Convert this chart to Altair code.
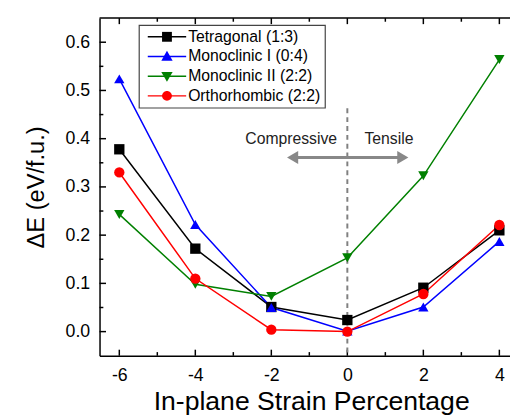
import altair as alt
import pandas as pd

# ---------------- data ----------------
strain = [-6, -4, -2, 0, 2, 4]
series_names = ["Tetragonal (1:3)", "Monoclinic I (0:4)", "Monoclinic II (2:2)", "Orthorhombic (2:2)"]
tetragonal = [0.378, 0.172, 0.051, 0.024, 0.091, 0.210]
monoclinic_1 = [0.524, 0.222, 0.050, 0.001, 0.051, 0.187]
monoclinic_2 = [0.243, 0.098, 0.073, 0.153, 0.323, 0.564]
orthorhombic = [0.330, 0.110, 0.004, 0.000, 0.078, 0.221]
series_values = [tetragonal, monoclinic_1, monoclinic_2, orthorhombic]

colors = ["#000000", "#0000ff", "#008000", "#ff0000"]
shapes = ["square", "triangle-up", "triangle-down", "circle"]

x_major = [-6, -4, -2, 0, 2, 4]
x_minor = [-5, -3, -1, 1, 3]
y_major = [0.0, 0.1, 0.2, 0.3, 0.4, 0.5, 0.6]
y_minor = [0.05, 0.15, 0.25, 0.35, 0.45, 0.55]
x_domain = [-6.52, 4.28]
y_domain = [-0.05, 0.65]

# inward tick lengths in data units (x ticks: along y; y ticks: along x)
x_tick_len = {"major": 0.0125, "minor": 0.0075}
y_tick_len = {"major": 0.17, "minor": 0.10}

# annotations
divider_x = [0]
divider_top = [0.463]
divider_bottom = [-0.05]
arrow_y = [0.361]
arrow_left = [-1.44]
arrow_right = [1.46]
head_x = [-1.44, 1.46]
head_shapes = ["triangle-left", "triangle-right"]
ann_text = ["Compressive", "Tensile"]
ann_x = [-0.27, 0.45]
ann_y = [0.40, 0.40]
ann_align = ["right", "left"]

FONT = "Liberation Sans"

rows = []
for name, vals in zip(series_names, series_values):
    for xv, yv in zip(strain, vals):
        rows.append({"strain": xv, "dE": yv, "series": name, "lseries": name, "mseries": name})
df = pd.DataFrame(rows)

# tick tables (bottom, top, left)
xt_rows = []
for kind, vals in (("major", x_major), ("minor", x_minor)):
    for v in vals:
        xt_rows.append({"x": v, "y": y_domain[0], "y2": y_domain[0] + x_tick_len[kind]})
        xt_rows.append({"x": v, "y": y_domain[1], "y2": y_domain[1] - x_tick_len[kind]})
xt_df = pd.DataFrame(xt_rows)
yt_rows = []
for kind, vals in (("major", y_major), ("minor", y_minor)):
    for v in vals:
        yt_rows.append({"x": x_domain[0], "x2": x_domain[0] + y_tick_len[kind], "y": v})
yt_df = pd.DataFrame(yt_rows)
frame_df = pd.DataFrame({"x": [x_domain[0]], "x2": [x_domain[1]], "y": [y_domain[1]]})

# legend symbols (custom paths, unit = half of sqrt(symbolSize))
c = 3.3
legend_line_paths = ["M-0.6,0H7.2"] * 4
legend_marker_paths = [
    f"M{c-1},-1H{c+1}V1H{c-1}Z",
    f"M{c},-1.15L{c+1.15},0.85H{c-1.15}Z",
    f"M{c},1.15L{c+1.15},-0.85H{c-1.15}Z",
    f"M{c+1},0A1,1,0,1,1,{c-1},0A1,1,0,1,1,{c+1},0Z",
]

xscale = alt.Scale(domain=x_domain, nice=False, zero=False)
yscale = alt.Scale(domain=y_domain, nice=False, zero=False)

x_axis = alt.Axis(
    orient="bottom", values=x_major, title="In-plane Strain Percentage",
    labelExpr="'' + datum.value", ticks=False, grid=False,
    domainColor="black", domainWidth=1.5,
    labelFont=FONT, labelFontSize=18, labelColor="black", labelPadding=11,
    titleFont=FONT, titleFontSize=27, titleFontWeight="normal", titleColor="black", titlePadding=5,
    titleX=215, titleAlign="center",
)
y_axis = alt.Axis(
    orient="left", values=y_major, title="ΔE (eV/f.u.)", format=".1f", ticks=False, grid=False,
    domainColor="black", domainWidth=1.5,
    labelFont=FONT, labelFontSize=18, labelColor="black", labelPadding=10,
    titleFont=FONT, titleFontSize=24, titleFontWeight="normal", titleColor="black", titlePadding=17,
)


def X(field):
    return alt.X(field, scale=xscale, axis=x_axis)


def Y(field):
    return alt.Y(field, scale=yscale, axis=y_axis)


color_scale = alt.Scale(domain=series_names, range=colors)
shape_scale = alt.Scale(domain=series_names, range=shapes)

base = alt.Chart(df)

lines = base.mark_line(strokeWidth=1.5).encode(
    x=X("strain:Q"), y=Y("dE:Q"),
    color=alt.Color("series:N", scale=color_scale, legend=None),
    order=alt.Order("strain:Q"),
)
points = base.mark_point(filled=True, size=110, opacity=1).encode(
    x=X("strain:Q"), y=Y("dE:Q"),
    color=alt.Color("series:N", scale=color_scale, legend=None),
    shape=alt.Shape("series:N", scale=shape_scale, legend=None),
)

leg_common = dict(
    title=None, orient="none", legendX=40, legendY=7, direction="vertical",
    labelFont=FONT, labelFontSize=16, labelOffset=30, labelLimit=400,
    symbolSize=100, symbolOpacity=1, padding=4, rowPadding=4,
)
leg_lines = alt.Legend(labelColor="black", symbolStrokeWidth=1.5,
                       strokeColor="#444444", fillColor="white", zindex=1, **leg_common)
leg_markers = alt.Legend(labelColor="transparent", symbolStrokeWidth=0, zindex=2, **leg_common)

legend_lines_layer = base.mark_point(filled=False, opacity=0).encode(
    x=X("strain:Q"), y=Y("dE:Q"),
    color=alt.Color("lseries:N", scale=alt.Scale(domain=series_names, range=colors), legend=leg_lines),
    shape=alt.Shape("lseries:N", scale=alt.Scale(domain=series_names, range=legend_line_paths), legend=leg_lines),
)
legend_markers_layer = base.mark_point(filled=True, opacity=0).encode(
    x=X("strain:Q"), y=Y("dE:Q"),
    color=alt.Color("mseries:N", scale=alt.Scale(domain=series_names, range=colors), legend=leg_markers),
    shape=alt.Shape("mseries:N", scale=alt.Scale(domain=series_names, range=legend_marker_paths), legend=leg_markers),
)

x_ticks_layer = alt.Chart(xt_df).mark_rule(color="black", strokeWidth=1.5).encode(
    x=X("x:Q"), y=Y("y:Q"), y2="y2:Q",
)
y_ticks_layer = alt.Chart(yt_df).mark_rule(color="black", strokeWidth=1.5).encode(
    x=X("x:Q"), x2="x2:Q", y=Y("y:Q"),
)
top_frame = alt.Chart(frame_df).mark_rule(color="black", strokeWidth=1.5).encode(
    x=X("x:Q"), x2="x2:Q", y=Y("y:Q"),
)

div_df = pd.DataFrame({"x": divider_x, "y": divider_top, "y2": divider_bottom})
divider = alt.Chart(div_df).mark_rule(strokeDash=[5, 4], color="#808080", strokeWidth=2).encode(
    x=X("x:Q"), y=Y("y:Q"), y2="y2:Q",
)

arr_df = pd.DataFrame({"x": arrow_left, "x2": arrow_right, "y": arrow_y})
arrow_line = alt.Chart(arr_df).mark_rule(color="#888888", strokeWidth=3).encode(
    x=X("x:Q"), x2="x2:Q", y=Y("y:Q"),
)
head_df = pd.DataFrame({"x": head_x, "y": arrow_y * 2, "shape": head_shapes})
arrow_heads = alt.Chart(head_df).mark_point(filled=True, size=170, opacity=1, color="#888888").encode(
    x=X("x:Q"), y=Y("y:Q"),
    shape=alt.Shape("shape:N", scale=alt.Scale(domain=head_shapes, range=head_shapes), legend=None),
)

ann_df = pd.DataFrame({"x": ann_x, "y": ann_y, "t": ann_text, "a": ann_align})
ann_left = alt.Chart(ann_df[ann_df["a"] == "right"]).mark_text(
    font=FONT, fontSize=16, color="#222222", align="right", baseline="middle"
).encode(x=X("x:Q"), y=Y("y:Q"), text="t:N")
ann_right = alt.Chart(ann_df[ann_df["a"] == "left"]).mark_text(
    font=FONT, fontSize=16, color="#222222", align="left", baseline="middle"
).encode(x=X("x:Q"), y=Y("y:Q"), text="t:N")

chart = alt.layer(
    x_ticks_layer, y_ticks_layer, top_frame,
    divider, arrow_line, arrow_heads, ann_left, ann_right, lines, points,
    legend_lines_layer, legend_markers_layer,
).resolve_scale(shape="independent", color="independent").properties(
    width=417, height=343,
    padding={"left": 93, "top": 7, "right": 0, "bottom": 60},
    autosize=alt.AutoSizeParams(type="none"),
).configure_view(stroke="transparent").configure_legend(strokeWidth=1.2)

chart.save("out.html", embed_options={"renderer": "svg", "actions": False})
